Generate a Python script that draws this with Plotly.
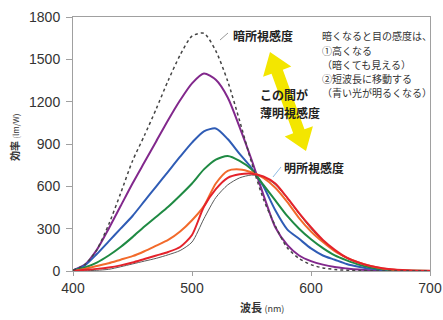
import math
import plotly.graph_objects as go

wavelength = list(range(400, 701, 10))

scotopic = [5, 45, 150, 330, 550, 780, 960, 1150, 1350, 1530, 1665, 1685, 1560, 1345, 1065, 770,
            510, 320, 165, 88, 45, 22, 11, 5, 2, 1, 0, 0, 0, 0, 0]
purple = [5, 45, 150, 300, 460, 620, 770, 920, 1070, 1210, 1330, 1400, 1355, 1230, 1020, 790,
          540, 310, 185, 110, 70, 45, 28, 18, 10, 5, 3, 1, 0, 0, 0]
blue = [3, 40, 120, 210, 300, 390, 495, 600, 705, 810, 910, 990, 1010, 935, 830, 730,
        600, 430, 295, 228, 160, 110, 80, 50, 30, 15, 7, 3, 1, 0, 0]
green = [2, 25, 60, 110, 170, 240, 315, 385, 455, 535, 620, 720, 790, 815, 780, 720,
         610, 500, 390, 300, 225, 162, 110, 75, 45, 25, 12, 5, 2, 1, 0]
orange = [1, 15, 35, 55, 80, 105, 140, 180, 220, 280, 360, 460, 620, 710, 720, 700,
          660, 590, 490, 375, 280, 205, 140, 95, 60, 35, 18, 8, 4, 1, 0]
red = [0, 8, 15, 25, 40, 60, 85, 110, 135, 170, 255, 455, 580, 660, 685, 690,
       670, 620, 520, 410, 310, 220, 150, 95, 60, 35, 20, 10, 5, 2, 1]
photopic = [0, 2, 5, 12, 30, 50, 70, 90, 115, 145, 205, 370, 520, 610, 660, 680,
            668, 612, 515, 405, 300, 212, 143, 90, 56, 32, 17, 9, 4, 2, 1]

x_ticks = [400, 500, 600, 700]
y_ticks = [0, 300, 600, 900, 1200, 1500, 1800]

# The page body margin is removed (post_script), so the figure sits at (0, 0).
W, H = 443, 320
PL, PR, PT, PB = 73, 430, 17, 271          # plot area in window pixels
L, R, T, B = PL, W - PR, PT, H - PB
PW, PH = PR - PL, PB - PT


def px(x):
    return (x - PL) / PW


def py(y):
    return (PB - y) / PH


fig = go.Figure()

series = [
    (photopic, "#5a5a5a", 1.0, "solid"),
    (purple, "#82288c", 2.0, "solid"),
    (blue, "#2f5cb5", 2.0, "solid"),
    (green, "#1f8a43", 2.0, "solid"),
    (orange, "#f26a2b", 2.0, "solid"),
    (red, "#e4222b", 2.0, "solid"),
    (scotopic, "#444444", 1.5, "dot"),
]
for ys, col, w, dash in series:
    fig.add_trace(go.Scatter(x=wavelength, y=ys, mode="lines",
                             line=dict(color=col, width=w, dash=dash, shape="spline", smoothing=0.7),
                             showlegend=False, hoverinfo="skip", cliponaxis=True))

# yellow double arrow (decoration)
x1, y1, x2, y2 = 270, 52, 306, 151
dx, dy = x2 - x1, y2 - y1
ln = math.hypot(dx, dy)
ux, uy = dx / ln, dy / ln
nx, ny = -uy, ux
hl, hw, sw = 21, 15, 6
pts = [
    (x1, y1),
    (x1 + ux * hl + nx * hw, y1 + uy * hl + ny * hw),
    (x1 + ux * hl + nx * sw, y1 + uy * hl + ny * sw),
    (x2 - ux * hl + nx * sw, y2 - uy * hl + ny * sw),
    (x2 - ux * hl + nx * hw, y2 - uy * hl + ny * hw),
    (x2, y2),
    (x2 - ux * hl - nx * hw, y2 - uy * hl - ny * hw),
    (x2 - ux * hl - nx * sw, y2 - uy * hl - ny * sw),
    (x1 + ux * hl - nx * sw, y1 + uy * hl - ny * sw),
    (x1 + ux * hl - nx * hw, y1 + uy * hl - ny * hw),
]
path = "M " + " L ".join(f"{px(a):.5f},{py(b):.5f}" for a, b in pts) + " Z"
fig.add_shape(type="path", path=path, xref="paper", yref="paper",
              fillcolor="#f3e600", line=dict(width=0), layer="below")

# leader lines
fig.add_shape(type="line", xref="paper", yref="paper",
              x0=px(220), y0=py(40), x1=px(228), y1=py(33),
              line=dict(color="#999999", width=1))
fig.add_shape(type="line", xref="paper", yref="paper",
              x0=px(273), y0=py(177), x1=px(281), y1=py(167),
              line=dict(color="#8fbbe3", width=1))

CJK = "Noto Sans CJK JP"


def text(x, y, s, size, bold=False, color="#222222", anchor="left", angle=0):
    fig.add_annotation(xref="paper", yref="paper", x=px(x), y=py(y), text=(f"<b>{s}</b>" if bold else s),
                       showarrow=False, xanchor=anchor, yanchor="middle", textangle=angle,
                       font=dict(family=CJK, size=size, color=color))


text(231, 35, "暗所視感度", 12, True)
text(258, 94, "この間が", 12, True)
text(258, 112, "薄明視感度", 12, True)
text(282, 167, "明所視感度", 12, True)

note = ["暗くなると目の感度は、", "①高くなる", "（暗くても見える）", "②短波長に移動する", "（青い光が明るくなる）"]
note_y = [36, 50, 64, 78, 92]
for s, yy in zip(note, note_y):
    text(320, yy, s, 10, False, "#333333")

# axis titles
text(262, 307, "<b>波長</b> <span style='font-size:9px'>(nm)</span>", 11, False, "#333333", "center")
text(14, 137, "<b>効率</b> <span style='font-size:8px'>(lm/W)</span>", 10, False, "#333333", "center", -90)

fig.update_layout(
    width=W, height=H,
    margin=dict(l=L, r=R, t=T, b=B, autoexpand=False),
    paper_bgcolor="white", plot_bgcolor="white",
    font=dict(family="Liberation Sans, Arial", size=14, color="#333333"),
)
fig.update_xaxes(range=[400, 700], tickvals=x_ticks, ticktext=[str(v) for v in x_ticks],
                 showgrid=False, zeroline=False, showline=True, linecolor="#a0a0a0", linewidth=1,
                 mirror=True, ticks="outside", ticklen=4, tickcolor="#a0a0a0", automargin=False,
                 ticklabeloverflow="allow",
                 tickfont=dict(size=14, color="#333333"))
fig.update_yaxes(range=[0, 1800], tickvals=y_ticks, ticktext=[str(v) for v in y_ticks],
                 showgrid=False, zeroline=False, showline=True, linecolor="#a0a0a0", linewidth=1,
                 mirror=True, ticks="outside", ticklen=6, tickcolor="#a0a0a0", automargin=False,
                 ticklabelstandoff=3,
                 tickfont=dict(size=14, color="#333333"))

fig.write_html("out.html", config={"displayModeBar": False},
               post_script="document.body.style.margin='0';document.body.style.overflow='hidden';")
